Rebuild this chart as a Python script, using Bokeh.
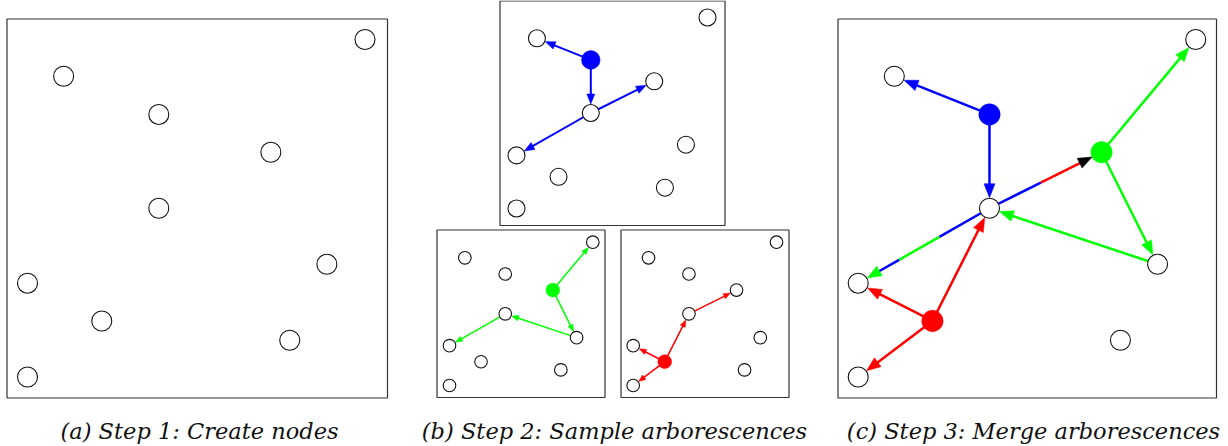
import numpy as np
from bokeh.plotting import figure
from bokeh.models import Range1d
from bokeh.embed import file_html
from bokeh.resources import INLINE
from bokeh.core.properties import value

# ---------------- data ----------------
# node positions, normalised to the node cloud (0..1), nodes 1..10 -> index 0..9
node_u = [1.000, 0.107, 0.389, 0.721, 0.389, 0.887, 0.000, 0.220, 0.777, 0.000]
node_v = [0.000, 0.109, 0.222, 0.334, 0.500, 0.666, 0.722, 0.834, 0.891, 1.000]

# sampled arborescences (source, target)
blue_root = 2
blue_edges = [(2, 1), (2, 4), (4, 3), (4, 6)]
green_root = 3
green_edges = [(3, 0), (3, 5), (5, 4), (4, 6)]
red_root = 7
red_edges = [(7, 6), (7, 9), (7, 4), (4, 3)]

captions = ["(a) Step 1: Create nodes",
            "(b) Step 2: Sample arborescences",
            "(c) Step 3: Merge arborescences"]

BLUE, GREEN, RED = "#0000ff", "#00ff00", "#ff0000"

# ---------------- layout / style ----------------
panels = [
    dict(box=(6.5, 18.5, 387, 397.5), org=(27, 39), s=337.5, r=10, rf=10.7, lw=2.5, hl=13, hw=10,
         roots=[], sets=[]),
    dict(box=(499.5, 0.5, 724.5, 225), org=(516, 17), s=191, r=8.5, rf=9.3, lw=2.0, hl=10, hw=8,
         roots=[(blue_root, BLUE)], sets=[(blue_edges, BLUE)]),
    dict(box=(436.5, 229.5, 604.5, 397), org=(449, 241.7), s=143.3, r=6.3, rf=6.9, lw=1.5, hl=7, hw=5.5,
         roots=[(green_root, GREEN)], sets=[(green_edges, GREEN)]),
    dict(box=(620.5, 229.5, 788.5, 397), org=(632.7, 241.7), s=143.3, r=6.3, rf=6.9, lw=1.5, hl=7, hw=5.5,
         roots=[(red_root, RED)], sets=[(red_edges, RED)]),
    dict(box=(837.5, 18.5, 1216, 397.5), org=(857.7, 39), s=337.5, r=10, rf=10.7, lw=2.5, hl=14, hw=11,
         roots=[(blue_root, BLUE), (green_root, GREEN), (red_root, RED)],
         sets=[(blue_edges, BLUE), (green_edges, GREEN), (red_edges, RED)]),
]
# how shared edges are painted in the merged panel: (fraction breaks, colours, head colour)
merge_style = {
    frozenset([BLUE, RED]): ([0.0, 0.5, 1.0], [BLUE, RED], "#000000"),
    frozenset([BLUE, GREEN]): ([0.0, 0.41, 0.74, 1.0], [BLUE, GREEN, BLUE], GREEN),
}
caption_x = [199, 614, 1033]
caption_y = 430

W, H = 1228, 446
p = figure(width=W, height=H, output_backend="svg", toolbar_location=None,
           x_range=Range1d(0, W), y_range=Range1d(H, 0), min_border=0,
           outline_line_color=None)
p.axis.visible = False
p.grid.visible = False

uu = np.array(node_u)
vv = np.array(node_v)

for pn in panels:
    x0, y0, x1, y1 = pn["box"]
    p.quad(left=[x0], right=[x1], top=[y0], bottom=[y1], fill_color=None,
           line_color="#333333", line_width=1.2)
    ox, oy = pn["org"]
    s = pn["s"]
    X = ox + uu * s
    Y = oy + vv * s

    # collect edges with colours
    edge_cols = {}
    order = []
    for edges, col in pn["sets"]:
        for e in edges:
            if e not in edge_cols:
                edge_cols[e] = []
                order.append(e)
            edge_cols[e].append(col)

    sx0, sy0, sx1, sy1, scol = [], [], [], [], []
    hx, hy, hcol = [], [], []
    for e in order:
        a, b = e
        cols = edge_cols[e]
        P = np.array([X[a], Y[a]])
        Q = np.array([X[b], Y[b]])
        d = Q - P
        L = np.hypot(*d)
        u = d / L
        n = np.array([-u[1], u[0]])
        tip = Q - u * (pn["r"] + 0.5)
        base = tip - u * pn["hl"]
        end = base + u * 1.5
        if len(cols) == 1:
            breaks, segcols, headcol = [0.0, 1.0], cols, cols[0]
        else:
            breaks, segcols, headcol = merge_style[frozenset(cols)]
        seglen = np.hypot(*(end - P))
        full = np.hypot(*(tip - P))
        for i, c in enumerate(segcols):
            f0 = breaks[i] * full
            f1 = min(breaks[i + 1] * full, seglen)
            A = P + u * f0
            B = P + u * f1
            sx0.append(A[0]); sy0.append(A[1]); sx1.append(B[0]); sy1.append(B[1]); scol.append(c)
        c1 = base + n * pn["hw"] / 2
        c2 = base - n * pn["hw"] / 2
        hx.append([tip[0], c1[0], c2[0]])
        hy.append([tip[1], c1[1], c2[1]])
        hcol.append(headcol)

    if sx0:
        p.segment(x0=sx0, y0=sy0, x1=sx1, y1=sy1, line_color=scol, line_width=pn["lw"])
        p.patches(xs=hx, ys=hy, fill_color=hcol, line_color=hcol, line_width=0.5)

    root_idx = [r for r, _ in pn["roots"]]
    white = [i for i in range(len(node_u)) if i not in root_idx]
    p.scatter(x=X[white], y=Y[white], size=2 * pn["r"], marker="circle",
              fill_color="white", line_color="#111111", line_width=1.1)
    for r, col in pn["roots"]:
        p.scatter(x=[X[r]], y=[Y[r]], size=2 * pn["rf"], marker="circle",
                  fill_color=col, line_color=col, line_width=0.5)

p.text(x=caption_x, y=[caption_y] * 3, text=captions,
       text_font=value("DejaVu Serif"), text_font_style="italic",
       text_font_size="22.5px", text_align="center", text_baseline="alphabetic",
       text_color="#111111")

open("out.html", "w").write(file_html(p, INLINE))
